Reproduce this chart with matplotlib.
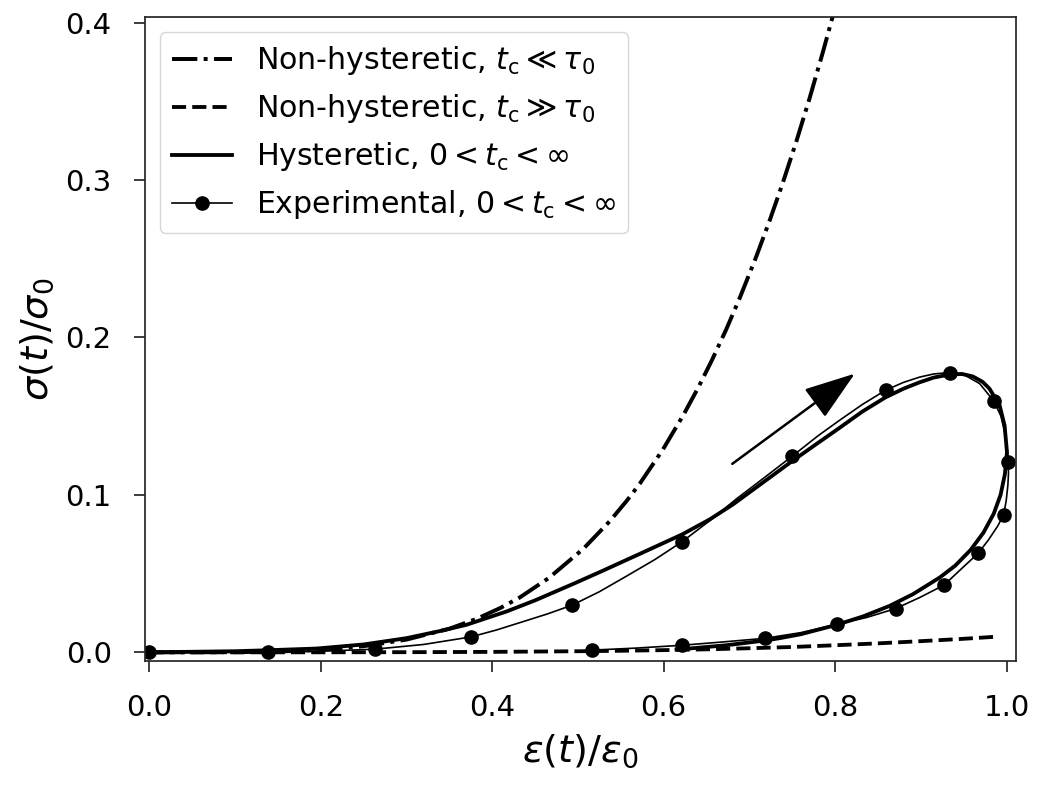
import matplotlib
matplotlib.use("Agg")
import matplotlib.pyplot as plt

# ---- data ----
# Non-hysteretic, t_c << tau_0 (dash-dot)
eps_fast = [0.0, 0.1, 0.15, 0.2, 0.25, 0.3, 0.35, 0.382, 0.41, 0.432, 0.466, 0.506,
            0.537, 0.557, 0.572, 0.599, 0.623, 0.640, 0.656, 0.673, 0.689, 0.708,
            0.724, 0.739, 0.755, 0.770, 0.786, 0.797, 0.81]
sig_fast = [0.0, 0.0001, 0.0005, 0.0016, 0.0039, 0.0081, 0.015, 0.0213, 0.0283, 0.0348,
            0.0472, 0.0656, 0.0832, 0.0963, 0.107, 0.1287, 0.1507, 0.1678, 0.1852,
            0.2051, 0.2254, 0.2513, 0.2748, 0.2982, 0.3249, 0.3515, 0.3817, 0.4035, 0.4305]

# Non-hysteretic, t_c >> tau_0 (dashed)
eps_slow = [0.0, 0.1, 0.2, 0.3, 0.4, 0.5, 0.55, 0.6, 0.65, 0.7, 0.75, 0.8, 0.85, 0.9, 0.95, 0.99]
sig_slow = [0.0, 0.0, 0.00002, 0.0001, 0.0003, 0.0007, 0.0010, 0.0014, 0.0019, 0.0026,
            0.0034, 0.0045, 0.0057, 0.0071, 0.0086, 0.0100]

# Hysteretic model (thick solid loop)
eps_hyst = [0.0, 0.1, 0.137, 0.195, 0.25, 0.3, 0.339, 0.37, 0.417, 0.45, 0.4946, 0.5256,
            0.572, 0.622, 0.654, 0.681, 0.735, 0.75, 0.78, 0.805, 0.832, 0.859, 0.88,
            0.8986, 0.915, 0.934, 0.948, 0.9607, 0.972, 0.980, 0.9918, 0.9977, 1.0005,
            0.998, 0.993, 0.985, 0.973, 0.958, 0.940, 0.922, 0.891, 0.8636, 0.8325,
            0.802, 0.76, 0.7354, 0.718, 0.673, 0.627, 0.615]
sig_hyst = [0.0, 0.0007, 0.0013, 0.0024, 0.005, 0.009, 0.0135, 0.0175, 0.026, 0.033,
            0.0435, 0.051, 0.0625, 0.075, 0.0845, 0.094, 0.1155, 0.1215, 0.133, 0.1425,
            0.153, 0.162, 0.1675, 0.1715, 0.1745, 0.1765, 0.1768, 0.1752, 0.1718, 0.1675,
            0.157, 0.144, 0.127, 0.113, 0.100, 0.088, 0.076, 0.065, 0.055, 0.0475, 0.037,
            0.0295, 0.0228, 0.0175, 0.0115, 0.0090, 0.0075, 0.0045, 0.0023, 0.0018]

# Experimental (thin line with markers)
eps_exp = [0.0, 0.07, 0.139, 0.2, 0.263, 0.32, 0.3753, 0.405, 0.436, 0.465, 0.4934,
           0.525, 0.557, 0.59, 0.6216, 0.654, 0.685, 0.718, 0.750, 0.78, 0.805, 0.832,
           0.859, 0.88, 0.8986, 0.915, 0.934, 0.952, 0.9685, 0.985, 0.9935, 0.9977,
           1.0005, 1.002, 1.0022, 1.0015, 0.9995, 0.9965, 0.990, 0.979, 0.967, 0.947,
           0.927, 0.8986, 0.8706, 0.8365, 0.802, 0.76, 0.718, 0.669, 0.6216, 0.568, 0.516]
sig_exp = [0.0, 0.0, 0.0, 0.0007, 0.002, 0.005, 0.0098, 0.0142, 0.0195, 0.0245, 0.030,
           0.0385, 0.0485, 0.059, 0.0703, 0.0837, 0.0975, 0.1112, 0.1246, 0.1375, 0.1473,
           0.1575, 0.1665, 0.1715, 0.1748, 0.1768, 0.1777, 0.1758, 0.1707, 0.1597, 0.150,
           0.140, 0.130, 0.1212, 0.113, 0.106, 0.096, 0.0875, 0.0805, 0.0715, 0.063,
           0.0529, 0.0427, 0.0348, 0.0278, 0.0221, 0.0178, 0.0125, 0.0089, 0.0066,
           0.0045, 0.0027, 0.0014]
exp_marks = [0, 2, 4, 6, 10, 14, 18, 22, 26, 29, 33, 37, 40, 42, 44, 46, 48, 50, 52]

# direction arrow (tail -> head)
arrow_tail = (0.680, 0.1197)
arrow_head = (0.823, 0.177)

labels = [r"Non-hysteretic, $t_\mathrm{c} \ll \tau_0$",
          r"Non-hysteretic, $t_\mathrm{c} \gg \tau_0$",
          r"Hysteretic, $0 < t_\mathrm{c} < \infty$",
          r"Experimental, $0 < t_\mathrm{c} < \infty$"]

plt.rcParams["font.family"] = ["DejaVu Sans"]

fig = plt.figure(figsize=(10.45, 7.87), dpi=100)
ax = fig.add_axes([145 / 1045, 1 - 661 / 787, (1016 - 145) / 1045, (661 - 17) / 787])

ax.plot(eps_fast, sig_fast, color="k", lw=2.85, ls="-.", label=labels[0])
ax.plot(eps_slow, sig_slow, color="k", lw=2.75, ls="--", label=labels[1])
ax.plot(eps_hyst, sig_hyst, color="k", lw=2.75, ls="-", label=labels[2])
ax.plot(eps_exp, sig_exp, color="k", lw=1.2, marker="o", ms=9.5,
        markevery=exp_marks, label=labels[3])

ax.annotate("", xy=arrow_head, xytext=arrow_tail,
            arrowprops=dict(arrowstyle="-|>,head_length=1.6,head_width=0.55",
                            mutation_scale=20, lw=1.8, color="k",
                            shrinkA=0, shrinkB=0))

ax.set_xlim(-0.005, 1.011)
ax.set_ylim(-0.0055, 0.4035)
ax.set_xticks([0.0, 0.2, 0.4, 0.6, 0.8, 1.0])
ax.set_yticks([0.0, 0.1, 0.2, 0.3, 0.4])

for s in ax.spines.values():
    s.set_color("#262626")
    s.set_linewidth(1.25)
ax.tick_params(axis="both", which="major", length=8, width=1.25, color="#262626",
               labelsize=21, pad=16)

ax.set_xlabel(r"$\varepsilon(t)/\varepsilon_0$", fontsize=27.5, labelpad=7)
ax.set_ylabel(r"$\sigma(t)/\sigma_0$", fontsize=27.5, labelpad=7)

ax.legend(loc="upper left", fontsize=21.6)

fig.savefig("out.png", dpi=100)
